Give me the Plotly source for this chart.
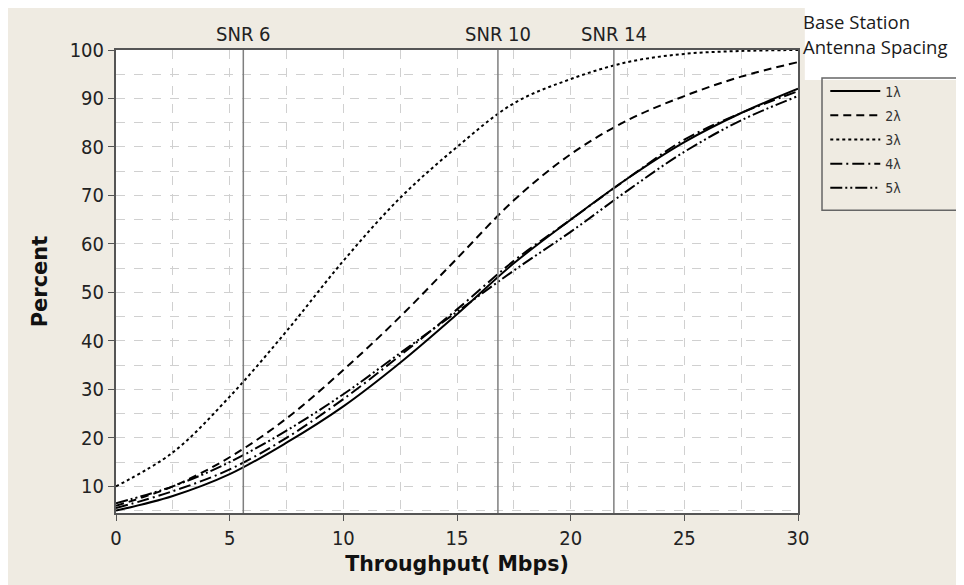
import plotly.graph_objects as go

x = [0, 2.5, 5, 7.5, 10, 12.5, 15, 17.5, 20, 22.5, 25, 27.5, 30]
s1 = [5.0, 8.0, 12.5, 19.0, 26.5, 35.5, 45.5, 56.0, 65.0, 73.5, 81.0, 87.0, 92.0]
s2 = [6.0, 10.0, 16.0, 24.0, 34.0, 45.0, 57.0, 69.0, 78.5, 85.5, 90.5, 94.5, 97.5]
s3 = [10.0, 17.0, 28.5, 42.0, 56.5, 69.5, 80.0, 89.0, 94.0, 97.5, 99.2, 99.8, 100.0]
s4 = [5.5, 9.0, 13.5, 20.0, 28.0, 37.0, 46.5, 56.5, 65.0, 73.5, 81.5, 87.0, 91.5]
s5 = [6.5, 10.0, 15.0, 21.5, 29.0, 37.5, 46.0, 54.5, 62.5, 71.0, 79.0, 85.5, 90.5]
names = ["1λ", "2λ", "3λ", "4λ", "5λ"]
dashes = ["solid", "8px,5px", "3px,3px", "12px,4px,2px,4px", "12px,3px,2px,3px,2px,3px"]
snr_x = [5.6, 16.8, 21.9]
snr_labels = ["SNR 6", "SNR 10", "SNR 14"]
legend_title_lines = ["Base Station", "Antenna Spacing"]

FONT = "DejaVu Sans Condensed"
fig = go.Figure()
for i, (name, ys, d) in enumerate(zip(names, [s1, s2, s3, s4, s5], dashes)):
    fig.add_trace(go.Scatter(x=x, y=ys, mode="lines", name=name, legendgroup=str(i),
                             line=dict(color="black", width=2, dash=d, shape="spline")))

for sx, lab in zip(snr_x, snr_labels):
    fig.add_shape(type="line", x0=sx, x1=sx, y0=0, y1=1, xref="x", yref="paper", line=dict(color="#7f7f7f", width=1.5))
    fig.add_annotation(x=sx, y=1, xref="x", yref="paper", yanchor="bottom", yshift=2, text=lab, showarrow=False,
                       font=dict(family=FONT, size=20, color="#222"))

# white box behind legend title, and legend frame (left/bottom visible)
fig.add_shape(type="rect", xref="paper", yref="paper", x0=1.0100, x1=1.30, y0=0.935, y1=1.11,
              fillcolor="white", line=dict(width=0), layer="below")
fig.add_shape(type="rect", xref="paper", yref="paper", x0=1.0352, x1=1.30, y0=0.654, y1=0.9395,
              fillcolor="rgba(0,0,0,0)", line=dict(color="#666", width=1.5))

for line_text, yy in zip(legend_title_lines, [1.0626, 1.0065]):
    fig.add_annotation(x=1.0, xref="paper", xanchor="left", xshift=3, y=yy, yref="paper", yanchor="middle",
                       text=line_text, align="left", showarrow=False,
                       font=dict(family="Open Sans", size=18.5, color="#1a1a1a"))

axis_common = dict(showline=True, linecolor="#555", linewidth=2, mirror=True, ticks="outside", ticklen=6,
                   tickcolor="#555", showgrid=True, gridcolor="#d0d0d0", griddash="dash", gridwidth=1,
                   tickfont=dict(family=FONT, size=20, color="#222"), zeroline=False, automargin=False)
fig.update_xaxes(range=[0, 30], dtick=5, tick0=0,
                 minor=dict(dtick=2.5, showgrid=True, gridcolor="#d0d0d0", griddash="dash"),
                 title=dict(text="<b>Throughput( Mbps)</b>", font=dict(family="DejaVu Sans", size=20.5, color="#111"), standoff=8),
                 **axis_common)
fig.update_yaxes(range=[4.5, 100], dtick=10, tick0=0,
                 minor=dict(dtick=5, showgrid=True, gridcolor="#d0d0d0", griddash="dash"),
                 title=dict(text="<b>Percent</b>", font=dict(family="DejaVu Sans", size=21, color="#111"), standoff=16),
                 **axis_common)

fig.update_layout(width=956, height=577, margin=dict(l=108, r=166, t=42, b=72),
                  paper_bgcolor="#efebe2", plot_bgcolor="white", showlegend=True,
                  legend=dict(x=1.04, y=0.945, xanchor="left", yanchor="top", bgcolor="rgba(0,0,0,0)",
                              borderwidth=0, tracegroupgap=3, itemwidth=50,
                              font=dict(family=FONT, size=14, color="#333")))
fig.write_html("out.html")
